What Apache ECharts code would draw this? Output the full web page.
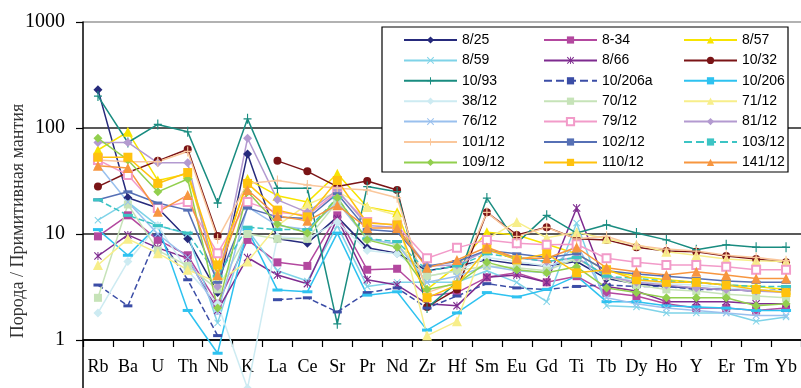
<!DOCTYPE html>
<html><head><meta charset="utf-8">
<script src="https://cdn.jsdelivr.net/npm/echarts@6/dist/echarts.min.js"></script>
<style>html,body{margin:0;padding:0;background:#fff}#c{width:801px;height:388px}</style>
</head><body><div id="c"></div>
<script>
const categories = ['Rb','Ba','U','Th','Nb','K','La','Ce','Sr','Pr','Nd','Zr','Hf','Sm','Eu','Gd','Ti','Tb','Dy','Ho','Y','Er','Tm','Yb'];
const yTickLabels = ['1','10','100','1000'];
const yTitle = 'Порода / Примитивная мантия';

const s_8_25   = [230, 22, 17.6, 9, 2.8, 57, 9, 8.2, 14.5, 7.4, 6.6, 4.5, 5, 5.7, 5.2, 5.0, 5.5, 3.8, 3.4, 3.2, 3.1, 3.0, 2.9, 2.9];
const s_8_34   = [9.5, 15, 8.8, 6.3, 2.2, 8.8, 5.4, 5.0, 15, 4.6, 4.7, 2.6, 2.8, 3.9, 4.3, 3.5, 4.0, 2.8, 2.6, 2.2, 2.0, 2.0, 1.9, 2.0];
const s_8_57   = [62, 92, 32, 37, 4.2, 33, 23, 20, 37, 18, 16, 3.0, 5.0, 10.4, 9.8, 8.0, 6.5, 4.5, 4.0, 3.7, 3.5, 3.3, 3.2, 3.0];
const s_8_59   = [13.5, 20, 12, 10, 1.45, 11, 4.5, 3.6, 12, 3.2, 3.5, 3.5, 3.5, 4.5, 3.5, 2.3, 12.7, 2.1, 2.05, 1.8, 1.8, 1.8, 1.5, 1.65];
const s_8_66   = [6.2, 9.8, 7.4, 5.9, 1.9, 6, 4.1, 3.4, 14, 3.7, 3.3, 2.2, 2.1, 3.9, 4.1, 3.5, 17.6, 3.2, 2.9, 2.3, 2.3, 2.3, 2.2, 2.2];
const s_10_32  = [28, 38, 49, 63, 9.6, null, 49, 39, 28, 31.6, 26, 2.05, 3, 16, 9.8, 11.6, 9, 8.8, 7.5, 6.9, 6.8, 6.2, 5.8, 5.4];
const s_10_93  = [200, 73, 108, 92, 19.6, 122, 27, 27, 1.42, 28, 25, 2.0, 3.5, 21.8, 8.2, 15, 10.2, 12.2, 10.2, 8.8, 7.1, 7.9, 7.5, 7.5];
const s_10_206a= [3.3, 2.1, 9.8, 3.7, 1.1, null, 2.4, 2.5, 1.84, 2.8, 3.1, 2.0, 2.6, 3.4, 3.1, 3.0, 3.2, 3.3, 3.2, 3.2, 3.0, 3.0, 2.9, 3.0];
const s_10_206 = [11, 6.3, 12, 1.9, 0.75, 11, 2.96, 2.85, 10.2, 2.65, 2.85, 1.24, 1.8, 2.8, 2.55, 3.0, 4.0, 2.3, 2.3, 2.1, 2.05, 2.0, 1.9, 1.9];
const s_38_12  = [1.8, 5.5, 12, 4.5, 2.2, 0.35, 9.4, 9, 13, 7, 6.5, 4, 4.5, 6, 5.5, 5, 6, 4, 3.6, 3.4, 3.3, 3.1, 3.0, 2.9];
const s_70_12  = [2.5, 19, 7, 5, 3, 10, 9, 9, 20, 9, 8, 4, 4.5, 5, 4.8, 4.5, 5.9, 4, 3.3, 3, 2.9, 2.7, 2.6, 2.5];
const s_71_12  = [5.1, 9, 6.6, 4.6, 3.5, 5.5, 12, 19, 25, 18, 15, 1.1, 1.5, 9, 13, 9.2, 10.4, 9, 7.9, 6.8, 6.3, 5.8, 5.6, 5.5];
const s_76_12  = [45, 20, 10, 6, 1.8, 18, 12, 11, 20, 9, 8, 3.5, 4, 5, 4.5, 4.3, 8, 2.5, 2.2, 2.0, 1.9, 1.8, 1.7, 1.7];
const s_79_12  = [50, 36, 17.6, 20, 6.6, 20, 16, 15, 25, 13, 12, 5.9, 7.4, 8.8, 8.2, 7.9, 8, 5.9, 5.4, 5.1, 5.1, 4.9, 4.6, 4.6];
const s_81_12  = [73, 73, 47, 47, 3.2, 80, 21, 16, 26, 12, 11.5, 5, 5.1, 7, 6, 5.5, 6, 4, 3.5, 3.3, 3.1, 3.0, 2.9, 2.8];
const s_101_12 = [50, 48, 48, 60, 9, 30, 32, 29, 27, 26, 22, 2.8, 3.5, 16, 9.5, 11.5, 9, 9.5, 7.8, 7.2, 6.9, 6.3, 6.0, 5.6];
const s_102_12 = [21, 25, 19.6, 16.8, 3.5, 17.6, 14.5, 14, 24, 11, 10.5, 5, 5.5, 7, 6.5, 6, 6.5, 4.5, 4.2, 4, 3.8, 3.6, 3.5, 3.5];
const s_103_12 = [21, 15, 12, 10.2, 4, 11.6, 11, 11, 22, 9, 8.5, 4.5, 5, 6.5, 6, 5.5, 6, 4, 3.8, 3.6, 3.5, 3.3, 3.2, 3.2];
const s_109_12 = [80, 50, 25, 33, 2.0, 25, 12.4, 10.2, 22, 8.8, 7.5, 3.0, 3.4, 5.4, 4.6, 4.3, 4.9, 3.1, 2.8, 2.5, 2.5, 2.5, 2.1, 2.2];
const s_110_12 = [53, 53, 30, 38, 5.1, 30, 16.8, 14.5, 32, 12.7, 12.2, 2.5, 3.3, 7.2, 5.7, 6.5, 4.3, 4.6, 3.7, 3.5, 3.5, 3.3, 3.0, 2.8];
const s_141_12 = [44, 42, 16.2, 23.3, 4.1, 26, 14.8, 13.3, 18.7, 11.4, 11.4, 4.8, 5.7, 7.5, 5.9, 5.9, 7.5, 4.8, 4.4, 4.1, 4.4, 4.1, 3.8, 3.8];

const PLUS = 'path://M4.3,0H5.7V4.3H10V5.7H5.7V10H4.3V5.7H0V4.3H4.3Z';
const CROSS = 'path://M1,0L5,4L9,0L10,1L6,5L10,9L9,10L5,6L1,10L0,9L4,5L0,1Z';
const STAR = 'path://M1,0L5,4L9,0L10,1L6,5L10,9L9,10L5,6L1,10L0,9L4,5L0,1Z M4.4,0H5.6V10H4.4Z';
const DASH = 'path://M0,0H10V3H0Z';

const defs = [
  ['8/25', s_8_25, '#262A7C', 'diamond', 9, 'solid'],
  ['8-34', s_8_34, '#B3489F', 'rect', 8, 'solid'],
  ['8/57', s_8_57, '#F7E400', 'triangle', 10, 'solid'],
  ['8/59', s_8_59, '#7FD3E8', CROSS, 7, 'solid'],
  ['8/66', s_8_66, '#7E2B8F', STAR, 8, 'solid'],
  ['10/32', s_10_32, '#7A1416', 'circle', 8, 'solid'],
  ['10/93', s_10_93, '#198C80', PLUS, [8,10], 'solid'],
  ['10/206a', s_10_206a, '#3B4DA6', DASH, [9,3], 'dashed'],
  ['10/206', s_10_206, '#2EC2F0', DASH, [10,3], 'solid'],
  ['38/12', s_38_12, '#CDEBF2', 'diamond', 9, 'solid'],
  ['70/12', s_70_12, '#C6E3B8', 'rect', 8, 'solid'],
  ['71/12', s_71_12, '#F7EE8A', 'triangle', 10, 'solid'],
  ['76/12', s_76_12, '#99C0EE', CROSS, 7, 'solid'],
  ['79/12', s_79_12, '#F29BC9', 'emptyRect', 8, 'solid'],
  ['81/12', s_81_12, '#B39AD0', 'diamond', 9, 'solid'],
  ['101/12', s_101_12, '#FAC79C', PLUS, [8,10], 'solid'],
  ['102/12', s_102_12, '#5670B5', DASH, [9,3], 'solid'],
  ['103/12', s_103_12, '#3CC4C4', DASH, [10,3], 'dashed'],
  ['109/12', s_109_12, '#92CF4E', 'diamond', 9, 'solid'],
  ['110/12', s_110_12, '#FFC20E', 'rect', 9, 'solid'],
  ['141/12', s_141_12, '#F7963F', 'triangle', 10, 'solid']
];

const series = defs.map(d => ({
  name: d[0], type: 'line', data: d[1], clip: false,
  symbol: d[3], symbolSize: d[4], showAllSymbol: true,
  lineStyle: {color: d[2], width: 1.5, type: d[5]},
  itemStyle: {color: d[2], borderColor: d[2], borderWidth: d[3]==='emptyRect' ? 1.2 : 0},
  emphasis: {disabled: true}, animation: false
}));

const names = defs.map(d => d[0]);
const legendBase = {
  orient: 'vertical', top: 28, itemWidth: 53, itemHeight: 9, itemGap: 6.4, z: 60,
  textStyle: {fontFamily: 'Liberation Sans, Arial, sans-serif', fontSize: 14, color: '#000'}
};
const legends = [0,1,2].map(c => Object.assign({}, legendBase, {
  left: 398 + c*140,
  data: names.filter((n,i) => i % 3 === c)
}));

const chart = echarts.init(document.getElementById('c'), null, {renderer: 'canvas'});
chart.setOption({
  animation: false,
  backgroundColor: '#fff',
  grid: {left: 83, right: -6, top: 22, bottom: 48, containLabel: false},
  legend: legends,
  xAxis: {
    type: 'category', data: categories, boundaryGap: true,
    axisLine: {lineStyle: {color: '#000', width: 1.5}},
    axisTick: {show: true, interval: 0, length: 7, lineStyle: {color: '#000', width: 1.2}},
    axisLabel: {interval: 0, margin: 18, fontFamily: 'Liberation Serif, Times New Roman, serif', fontSize: 18, color: '#000'},
    splitLine: {show: false}
  },
  yAxis: {
    type: 'log', logBase: 10, min: 1, max: 1000,
    axisLine: {show: true, lineStyle: {color: '#000', width: 1.5}},
    axisTick: {show: true, length: 7, lineStyle: {color: '#000', width: 1.2}},
    axisLabel: {margin: 18, fontFamily: 'Liberation Serif, Times New Roman, serif', fontSize: 20, color: '#000',
      formatter: v => yTickLabels[Math.round(Math.log10(v))]},
    splitLine: {show: true, lineStyle: {color: ['#000', '#222', '#222', '#999'], width: 1.5}},
    minorTick: {show: false}
  },
  graphic: [
    {type: 'rect', z: 50, shape: {x: 382, y: 27, width: 406, height: 145}, style: {fill: '#fff', stroke: '#000', lineWidth: 1.2}},
    {type: 'line', z: 50, shape: {x1: 83, y1: 340, x2: 83, y2: 388}, style: {stroke: '#000', lineWidth: 1.5}},
    {type: 'text', z: 50, x: 18, y: 221, rotation: Math.PI/2,
     style: {text: yTitle, fontFamily: 'Liberation Serif, Times New Roman, serif', fontSize: 18, fill: '#333', textAlign: 'center', textVerticalAlign: 'middle'}}
  ],
  series: series
});
</script>
</body></html>
